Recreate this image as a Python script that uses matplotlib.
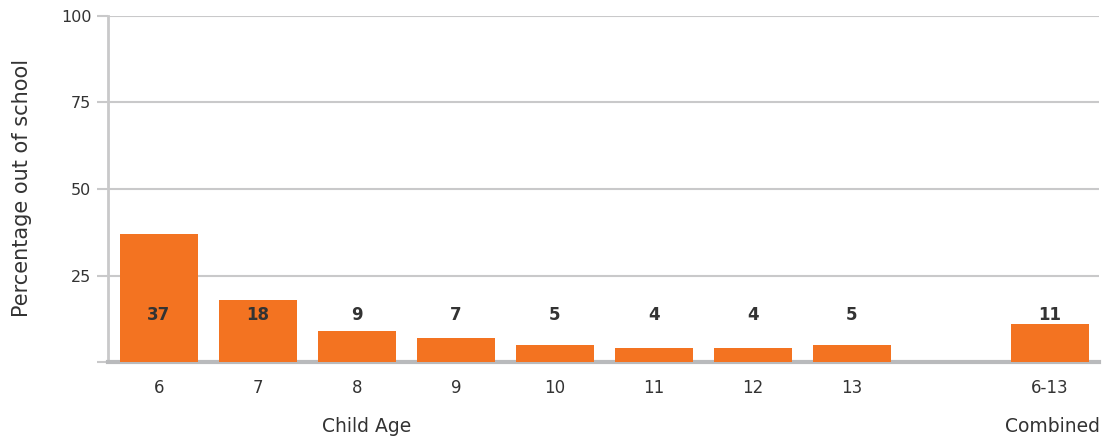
import matplotlib.pyplot as plt

ages = ['6', '7', '8', '9', '10', '11', '12', '13', '', '6-13']
values = [37, 18, 9, 7, 5, 4, 4, 5, None, 11]
label_y = 13.5

orange = '#f37321'
grid = '#c9c9ca'
text = '#333333'

plt.rcParams['font.family'] = ['DejaVu Sans']

fig = plt.figure(figsize=(11.04, 4.37), dpi=100)
ax = fig.add_axes([0.0978, 0.1716, 0.898, 0.7918])

pos = [i for i, v in enumerate(values) if v is not None]
vals = [v for v in values if v is not None]
ax.bar(pos, vals, width=0.79, color=orange, zorder=3)
for p, v in zip(pos, vals):
    ax.text(p, label_y, str(v), ha='center', va='center', fontsize=12,
            fontweight='bold', color=text, zorder=4)

ax.set_xlim(-0.515, 9.5)
ax.set_ylim(0, 100)
ax.set_yticks([0, 25, 50, 75, 100])
ax.set_yticklabels(['', '25', '50', '75', '100'])
ax.set_xticks(range(len(ages)))
ax.set_xticklabels(ages)
ax.yaxis.grid(True, color=grid, linewidth=1.5, zorder=0)
ax.tick_params(axis='y', length=8, width=1.5, color=grid, labelsize=11.5, labelcolor=text, pad=4)
ax.tick_params(axis='x', length=0, labelsize=12, labelcolor=text, pad=12)

for s in ['top', 'right']:
    ax.spines[s].set_visible(False)
ax.spines['left'].set_color(grid)
ax.spines['left'].set_linewidth(2)
ax.spines['bottom'].set_color('#b9babc')
ax.spines['bottom'].set_linewidth(3)

fig.text(22 / 1104, 1 - 188 / 437, 'Percentage out of school', rotation=90,
         ha='center', va='center', fontsize=15, color=text)
fig.text(367 / 1104, 1 - 426 / 437, 'Child Age', ha='center', va='center', fontsize=13.5, color=text)
fig.text(1052 / 1104, 1 - 426 / 437, 'Combined', ha='center', va='center', fontsize=13.5, color=text)

fig.savefig('out.png', dpi=100)
